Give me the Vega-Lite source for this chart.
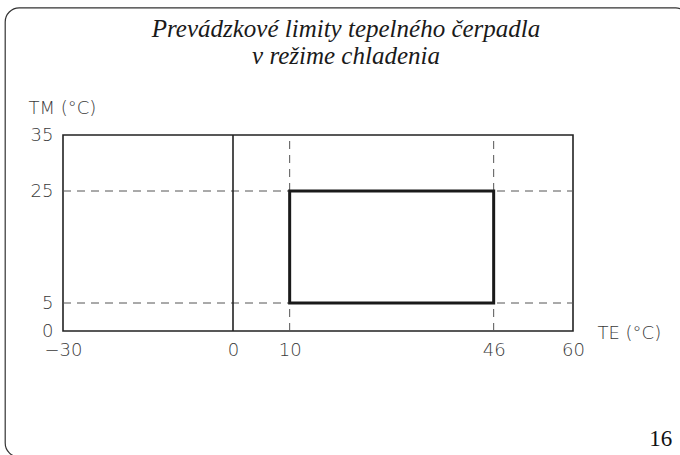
{
  "$schema": "https://vega.github.io/schema/vega-lite/v6.json",
  "width": 510,
  "height": 196,
  "autosize": "none",
  "padding": {"left": 63, "top": 135, "right": 107, "bottom": 124},
  "background": "white",
  "title": {
    "text": ["Prevádzkové limity tepelného čerpadla", "v režime chladenia"],
    "font": "Liberation Serif",
    "fontStyle": "italic",
    "fontWeight": "normal",
    "fontSize": 25,
    "lineHeight": 27,
    "color": "#1a1a1a",
    "anchor": "middle",
    "frame": "group",
    "dx": 28,
    "offset": -62
  },
  "config": {
    "view": {"stroke": "#222", "strokeWidth": 1.6},
    "axis": {
      "grid": false,
      "ticks": false,
      "domain": false,
      "labelFont": "DejaVu Sans",
      "labelFontWeight": 200,
      "labelFontSize": 18,
      "labelColor": "#3a3a3a",
      "titleFont": "DejaVu Sans",
      "titleFontWeight": 200,
      "titleFontSize": 18,
      "titleColor": "#3a3a3a"
    }
  },
  "datasets": {
    "frame": [{"x1": -40.2, "x2": 80.6, "y1": 57.7, "y2": -22.5}],
    "dashed": [
      {"x1": -30, "x2": 60, "y1": 25, "y2": 25},
      {"x1": -30, "x2": 60, "y1": 5, "y2": 5},
      {"x1": 10, "x2": 10, "y1": 0, "y2": 35},
      {"x1": 46, "x2": 46, "y1": 0, "y2": 35}
    ],
    "solid": [{"x1": 0, "x2": 0, "y1": 0, "y2": 35}],
    "limits": [{"te_min": 10, "te_max": 46, "tm_min": 5, "tm_max": 25}],
    "page": [{"x": 75.5, "y": -19.3, "label": "16"}]
  },
  "layer": [
    {
      "data": {"name": "frame"},
      "mark": {"type": "rect", "fill": null, "fillOpacity": 0, "stroke": "#333", "strokeWidth": 1.2, "cornerRadius": 14},
      "encoding": {
        "x": {"field": "x1", "type": "quantitative", "scale": {"domain": [-30, 60], "nice": false, "zero": false},
          "axis": {"values": [-30, 0, 10, 46, 60], "labelPadding": 10, "labelFlush": false, "labelOverlap": false,
            "title": "TE (°C)", "titleAngle": 0, "titleAlign": "left", "titleBaseline": "alphabetic", "titleX": 534, "titleY": 7}},
        "x2": {"field": "x2"},
        "y": {"field": "y1", "type": "quantitative", "scale": {"domain": [0, 35], "nice": false, "zero": false},
          "axis": {"values": [0, 5, 25, 35], "labelPadding": 10, "labelFlush": false, "labelOverlap": false,
            "title": "TM (°C)", "titleAngle": 0, "titleAlign": "left", "titleBaseline": "alphabetic", "titleX": -35, "titleY": -22}},
        "y2": {"field": "y2"}
      }
    },
    {
      "data": {"name": "dashed"},
      "mark": {"type": "rule", "stroke": "#555", "strokeWidth": 1, "strokeDash": [8, 6]},
      "encoding": {
        "x": {"field": "x1", "type": "quantitative"},
        "x2": {"field": "x2"},
        "y": {"field": "y1", "type": "quantitative"},
        "y2": {"field": "y2"}
      }
    },
    {
      "data": {"name": "solid"},
      "mark": {"type": "rule", "stroke": "#222", "strokeWidth": 1.6},
      "encoding": {
        "x": {"field": "x1", "type": "quantitative"},
        "x2": {"field": "x2"},
        "y": {"field": "y1", "type": "quantitative"},
        "y2": {"field": "y2"}
      }
    },
    {
      "data": {"name": "limits"},
      "mark": {"type": "rect", "fill": null, "fillOpacity": 0, "stroke": "#1a1a1a", "strokeWidth": 3},
      "encoding": {
        "x": {"field": "te_min", "type": "quantitative"},
        "x2": {"field": "te_max"},
        "y": {"field": "tm_min", "type": "quantitative"},
        "y2": {"field": "tm_max"}
      }
    },
    {
      "data": {"name": "page"},
      "mark": {"type": "text", "font": "Liberation Serif", "fontSize": 23, "color": "#111", "align": "center", "baseline": "middle"},
      "encoding": {
        "x": {"field": "x", "type": "quantitative"},
        "y": {"field": "y", "type": "quantitative"},
        "text": {"field": "label"}
      }
    }
  ]
}
